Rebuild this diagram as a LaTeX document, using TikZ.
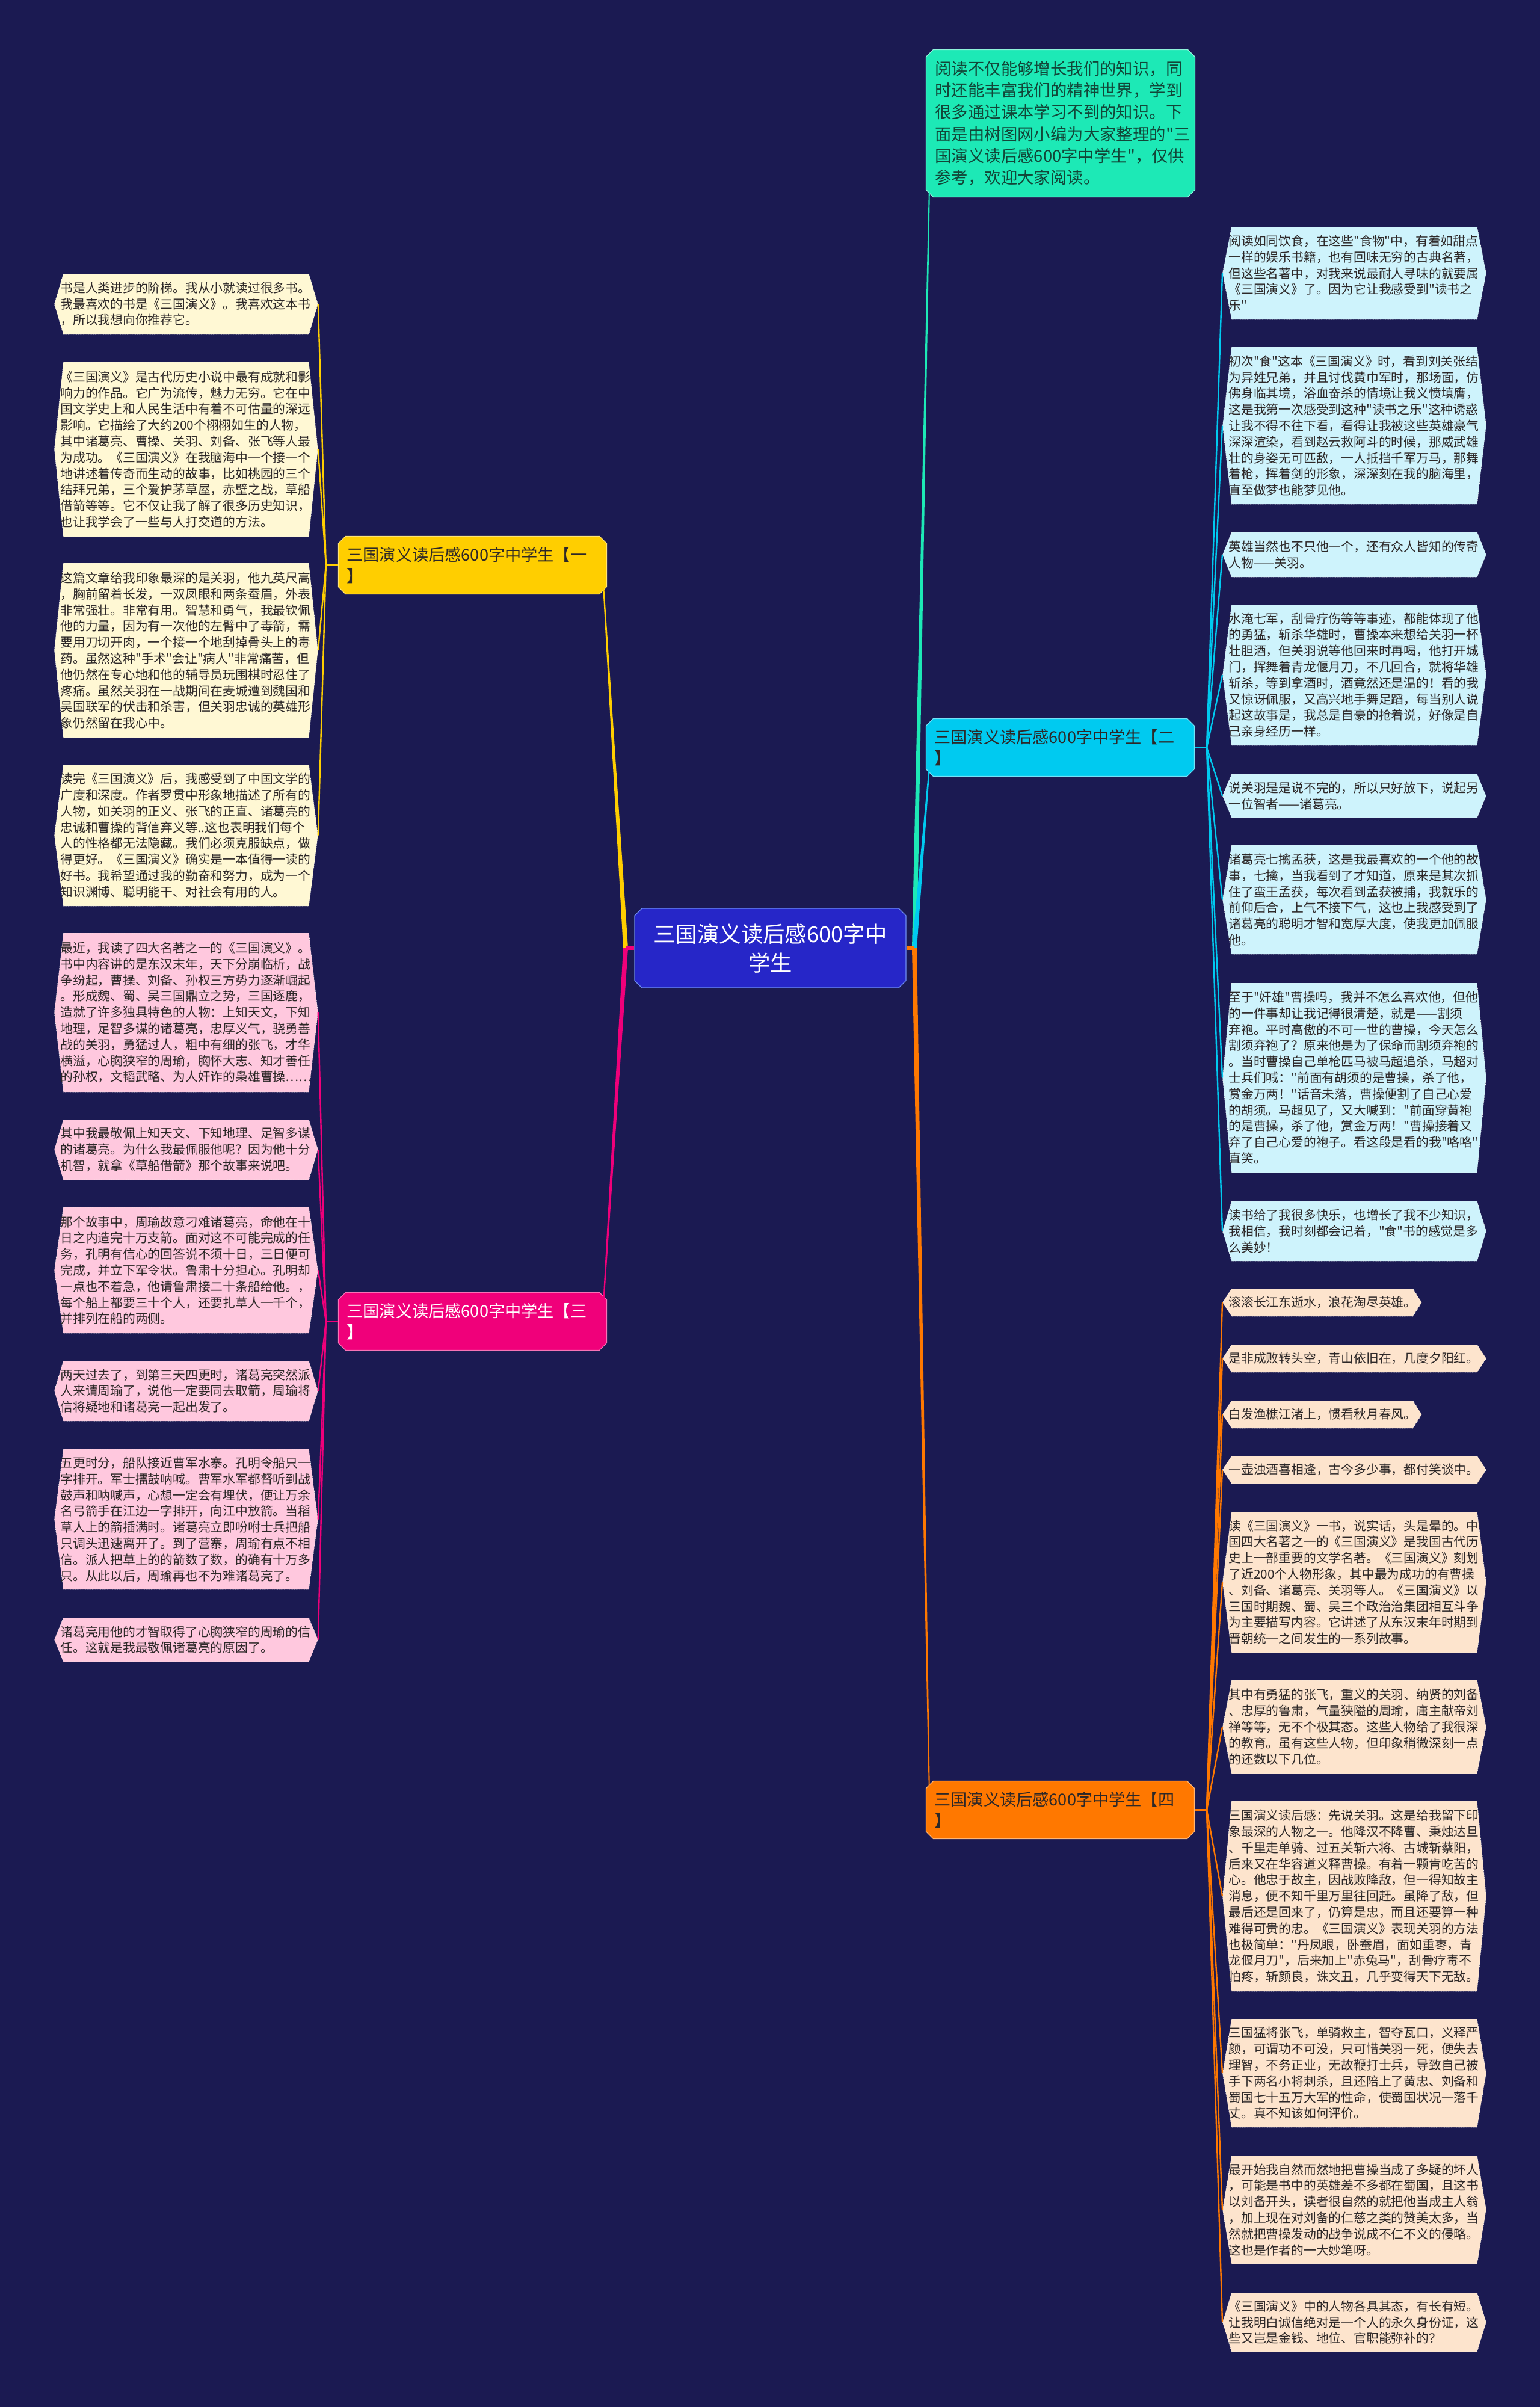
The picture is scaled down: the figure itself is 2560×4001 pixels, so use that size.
\documentclass[tikz,border=0pt]{standalone}
\usepackage{fontspec}
\newfontfamily\cjk{Noto Sans CJK SC}
\usetikzlibrary{calc,shapes.misc}

\definecolor{bgnavy}{RGB}{27,26,82}
\definecolor{introfill}{RGB}{29,233,182}
\definecolor{introtext}{RGB}{18,70,56}
\definecolor{rootfill}{RGB}{38,38,200}
\definecolor{rootedge}{RGB}{110,140,240}
\definecolor{yibr}{RGB}{255,206,0}
\definecolor{erbr}{RGB}{0,202,240}
\definecolor{sanbr}{RGB}{240,0,122}
\definecolor{sibr}{RGB}{255,120,0}
\definecolor{yileaf}{RGB}{255,248,212}
\definecolor{erleaf}{RGB}{206,243,252}
\definecolor{sanleaf}{RGB}{255,200,222}
\definecolor{sileaf}{RGB}{253,228,205}
\definecolor{leaftext}{RGB}{45,40,40}

\newcommand\leaffont{\cjk\fontsize{10.4pt}{13.4pt}\selectfont}
\newcommand\branchfont{\cjk\fontsize{13.6pt}{17.6pt}\selectfont}
\newcommand\rootfont{\cjk\fontsize{18.2pt}{24pt}\selectfont}

% tapered main connector: colour, hub, end
\newcommand\mainline[3]{\fill[#1] ($(#2)+(-4,0)$) -- ($(#3)+(-1,0)$) -- ($(#3)+(1,0)$) -- ($(#2)+(4,0)$) -- cycle;}

\tikzset{
  leaf/.style={anchor=west, fill=bgnavy, text=leaftext, font=\leaffont, align=left,
    text width=209pt, inner xsep=5pt, inner ysep=0pt,
    path picture={\filldraw[fill=#1, draw=white!85!gray, densely dotted, line width=0.4pt]
      ([xshift=7.5pt]path picture bounding box.north west) -- ([xshift=-7.5pt]path picture bounding box.north east)
      -- (path picture bounding box.east) -- ([xshift=-7.5pt]path picture bounding box.south east)
      -- ([xshift=7.5pt]path picture bounding box.south west) -- (path picture bounding box.west) -- cycle;}},
  branch/.style={chamfered rectangle, chamfered rectangle sep=3pt, anchor=north west,
    fill=#1, draw=#1!55!white, line width=0.6pt, font=\branchfont, text=leaftext,
    align=left, text width=209pt, inner xsep=4pt, minimum height=48pt},
  twig/.style={draw=#1, line width=1.2pt},
}

\begin{document}
\begin{tikzpicture}[x=0.5pt,y=-0.5pt]
  \path[use as bounding box, fill=bgnavy] (0,0) rectangle (2560,4001);

  % centre and intro
  \node[chamfered rectangle, chamfered rectangle sep=3pt, fill=rootfill, draw=rootedge, line width=0.6pt,
    text=white, font=\rootfont, align=center, minimum width=225.5pt, minimum height=66pt]
    (root) at (1280.5,1576) {三国演义读后感600字中\\学生};
  \node[chamfered rectangle, chamfered rectangle sep=3pt, anchor=north west, fill=introfill,
    draw=introfill!50!white, line width=0.6pt, text=introtext, font=\cjk\fontsize{13.7pt}{18.1pt}\selectfont,
    align=left, text width=208.5pt, inner xsep=4.5pt, minimum height=122.5pt] (intro) at (1545,88)
    {阅读不仅能够增长我们的知识，同\\
     时还能丰富我们的精神世界，学到\\
     很多通过课本学习不到的知识。下\\
     面是由树图网小编为大家整理的"三\\
     国演义读后感600字中学生"，仅供\\
     参考，欢迎大家阅读。};

  % branches
  \node[branch=yibr] (b1) at (568,897) {三国演义读后感600字中学生【一\\】};
  \node[branch=erbr] (b2) at (1545,1200) {三国演义读后感600字中学生【二\\】};
  \node[branch=sanbr, text=white] (b3) at (568,2154) {三国演义读后感600字中学生【三\\】};
  \node[branch=sibr] (b4) at (1545,2966) {三国演义读后感600字中学生【四\\】};

  % leaves of branch one
  \node[leaf=yileaf, minimum height=50.5pt] (yi1) at (90,505.5)
    {书是人类进步的阶梯。我从小就读过很多书。\\
     我最喜欢的书是《三国演义》。我喜欢这本书\\
     ，所以我想向你推荐它。};
  \node[leaf=yileaf, minimum height=145pt] (yi2) at (90,747)
    {《三国演义》是古代历史小说中最有成就和影\\
     响力的作品。它广为流传，魅力无穷。它在中\\
     国文学史上和人民生活中有着不可估量的深远\\
     影响。它描绘了大约200个栩栩如生的人物，\\
     其中诸葛亮、曹操、关羽、刘备、张飞等人最\\
     为成功。《三国演义》在我脑海中一个接一个\\
     地讲述着传奇而生动的故事，比如桃园的三个\\
     结拜兄弟，三个爱护茅草屋，赤壁之战，草船\\
     借箭等等。它不仅让我了解了很多历史知识，\\
     也让我学会了一些与人打交道的方法。};
  \node[leaf=yileaf, minimum height=145pt] (yi3) at (90,1081)
    {这篇文章给我印象最深的是关羽，他九英尺高\\
     ，胸前留着长发，一双凤眼和两条蚕眉，外表\\
     非常强壮。非常有用。智慧和勇气，我最钦佩\\
     他的力量，因为有一次他的左臂中了毒箭，需\\
     要用刀切开肉，一个接一个地刮掉骨头上的毒\\
     药。虽然这种"手术"会让"病人"非常痛苦，但\\
     他仍然在专心地和他的辅导员玩围棋时忍住了\\
     疼痛。虽然关羽在一战期间在麦城遭到魏国和\\
     吴国联军的伏击和杀害，但关羽忠诚的英雄形\\
     象仍然留在我心中。};
  \node[leaf=yileaf, minimum height=117.5pt] (yi4) at (90,1388.5)
    {读完《三国演义》后，我感受到了中国文学的\\
     广度和深度。作者罗贯中形象地描述了所有的\\
     人物，如关羽的正义、张飞的正直、诸葛亮的\\
     忠诚和曹操的背信弃义等..这也表明我们每个\\
     人的性格都无法隐藏。我们必须克服缺点，做\\
     得更好。《三国演义》确实是一本值得一读的\\
     好书。我希望通过我的勤奋和努力，成为一个\\
     知识渊博、聪明能干、对社会有用的人。};

  % leaves of branch three
  \node[leaf=sanleaf, minimum height=132pt] (san1) at (90,1683)
    {最近，我读了四大名著之一的《三国演义》。\\
     书中内容讲的是东汉末年，天下分崩临析，战\\
     争纷起，曹操、刘备、孙权三方势力逐渐崛起\\
     。形成魏、蜀、吴三国鼎立之势，三国逐鹿，\\
     造就了许多独具特色的人物：上知天文，下知\\
     地理，足智多谋的诸葛亮，忠厚义气，骁勇善\\
     战的关羽，勇猛过人，粗中有细的张飞，才华\\
     横溢，心胸狭窄的周瑜，胸怀大志、知才善任\\
     的孙权，文韬武略、为人奸诈的枭雄曹操……};
  \node[leaf=sanleaf, minimum height=50pt] (san2) at (90,1911)
    {其中我最敬佩上知天文、下知地理、足智多谋\\
     的诸葛亮。为什么我最佩服他呢？因为他十分\\
     机智，就拿《草船借箭》那个故事来说吧。};
  \node[leaf=sanleaf, minimum height=104.5pt] (san3) at (90,2111.5)
    {那个故事中，周瑜故意刁难诸葛亮，命他在十\\
     日之内造完十万支箭。面对这不可能完成的任\\
     务，孔明有信心的回答说不须十日，三日便可\\
     完成，并立下军令状。鲁肃十分担心。孔明却\\
     一点也不着急，他请鲁肃接二十条船给他。，\\
     每个船上都要三十个人，还要扎草人一千个，\\
     并排列在船的两侧。};
  \node[leaf=sanleaf, minimum height=50pt] (san4) at (90,2312)
    {两天过去了，到第三天四更时，诸葛亮突然派\\
     人来请周瑜了，说他一定要同去取箭，周瑜将\\
     信将疑地和诸葛亮一起出发了。};
  \node[leaf=sanleaf, minimum height=116.5pt] (san5) at (90,2525.5)
    {五更时分，船队接近曹军水寨。孔明令船只一\\
     字排开。军士擂鼓呐喊。曹军水军都督听到战\\
     鼓声和呐喊声，心想一定会有埋伏，便让万余\\
     名弓箭手在江边一字排开，向江中放箭。当稻\\
     草人上的箭插满时。诸葛亮立即吩咐士兵把船\\
     只调头迅速离开了。到了营寨，周瑜有点不相\\
     信。派人把草上的的箭数了数，的确有十万多\\
     只。从此以后，周瑜再也不为难诸葛亮了。};
  \node[leaf=sanleaf, minimum height=36.5pt] (san6) at (90,2725.5)
    {诸葛亮用他的才智取得了心胸狭窄的周瑜的信\\
     任。这就是我最敬佩诸葛亮的原因了。};

  % leaves of branch two
  \node[leaf=erleaf, minimum height=77pt] (er1) at (2032,454)
    {阅读如同饮食，在这些"食物"中，有着如甜点\\
     一样的娱乐书籍，也有回味无穷的古典名著，\\
     但这些名著中，对我来说最耐人寻味的就要属\\
     《三国演义》了。因为它让我感受到"读书之\\
     乐"};
  \node[leaf=erleaf, minimum height=130.5pt] (er2) at (2032,707.5)
    {初次"食"这本《三国演义》时，看到刘关张结\\
     为异姓兄弟，并且讨伐黄巾军时，那场面，仿\\
     佛身临其境，浴血奋杀的情境让我义愤填膺，\\
     这是我第一次感受到这种"读书之乐"这种诱惑\\
     让我不得不往下看，看得让我被这些英雄豪气\\
     深深渲染，看到赵云救阿斗的时候，那威武雄\\
     壮的身姿无可匹敌，一人抵挡千军万马，那舞\\
     着枪，挥着剑的形象，深深刻在我的脑海里，\\
     直至做梦也能梦见他。};
  \node[leaf=erleaf, minimum height=37pt] (er3) at (2032,922)
    {英雄当然也不只他一个，还有众人皆知的传奇\\
     人物——关羽。};
  \node[leaf=erleaf, minimum height=117pt] (er4) at (2032,1122)
    {水淹七军，刮骨疗伤等等事迹，都能体现了他\\
     的勇猛，斩杀华雄时，曹操本来想给关羽一杯\\
     壮胆酒，但关羽说等他回来时再喝，他打开城\\
     门，挥舞着青龙偃月刀，不几回合，就将华雄\\
     斩杀，等到拿酒时，酒竟然还是温的！看的我\\
     又惊讶佩服，又高兴地手舞足蹈，每当别人说\\
     起这故事是，我总是自豪的抢着说，好像是自\\
     己亲身经历一样。};
  \node[leaf=erleaf, minimum height=36pt] (er5) at (2032,1323)
    {说关羽是是说不完的，所以只好放下，说起另\\
     一位智者——诸葛亮。};
  \node[leaf=erleaf, minimum height=90.5pt] (er6) at (2032,1495.5)
    {诸葛亮七擒孟获，这是我最喜欢的一个他的故\\
     事，七擒，当我看到了才知道，原来是其次抓\\
     住了蛮王孟获，每次看到孟获被捕，我就乐的\\
     前仰后合，上气不接下气，这也上我感受到了\\
     诸葛亮的聪明才智和宽厚大度，使我更加佩服\\
     他。};
  \node[leaf=erleaf, minimum height=157.5pt] (er7) at (2032,1791.5)
    {至于"奸雄"曹操吗，我并不怎么喜欢他，但他\\
     的一件事却让我记得很清楚，就是——割须\\
     弃袍。平时高傲的不可一世的曹操，今天怎么\\
     割须弃袍了？原来他是为了保命而割须弃袍的\\
     。当时曹操自己单枪匹马被马超追杀，马超对\\
     士兵们喊："前面有胡须的是曹操，杀了他，\\
     赏金万两！"话音未落，曹操便割了自己心爱\\
     的胡须。马超见了，又大喊到："前面穿黄袍\\
     的是曹操，杀了他，赏金万两！"曹操接着又\\
     弃了自己心爱的袍子。看这段是看的我"咯咯"\\
     直笑。};
  \node[leaf=erleaf, minimum height=49.5pt] (er8) at (2032,2046.5)
    {读书给了我很多快乐，也增长了我不少知识，\\
     我相信，我时刻都会记着，"食"书的感觉是多\\
     么美妙！};

  % leaves of branch four
  \node[leaf=sileaf, minimum height=23pt, text width=155.5pt] (si1) at (2032,2165)
    {滚滚长江东逝水，浪花淘尽英雄。};
  \node[leaf=sileaf, minimum height=23pt] (si2) at (2032,2258)
    {是非成败转头空，青山依旧在，几度夕阳红。};
  \node[leaf=sileaf, minimum height=23pt, text width=155.5pt] (si3) at (2032,2351)
    {白发渔樵江渚上，惯看秋月春风。};
  \node[leaf=sileaf, minimum height=23pt] (si4) at (2032,2443)
    {一壶浊酒喜相逢，古今多少事，都付笑谈中。};
  \node[leaf=sileaf, minimum height=117pt] (si5) at (2032,2630)
    {读《三国演义》一书，说实话，头是晕的。中\\
     国四大名著之一的《三国演义》是我国古代历\\
     史上一部重要的文学名著。《三国演义》刻划\\
     了近200个人物形象，其中最为成功的有曹操\\
     、刘备、诸葛亮、关羽等人。《三国演义》以\\
     三国时期魏、蜀、吴三个政治治集团相互斗争\\
     为主要描写内容。它讲述了从东汉末年时期到\\
     晋朝统一之间发生的一系列故事。};
  \node[leaf=sileaf, minimum height=77.5pt] (si6) at (2032,2870.5)
    {其中有勇猛的张飞，重义的关羽、纳贤的刘备\\
     、忠厚的鲁肃，气量狭隘的周瑜，庸主献帝刘\\
     禅等等，无不个极其态。这些人物给了我很深\\
     的教育。虽有这些人物，但印象稍微深刻一点\\
     的还数以下几位。};
  \node[leaf=sileaf, minimum height=158pt] (si7) at (2032,3152)
    {三国演义读后感：先说关羽。这是给我留下印\\
     象最深的人物之一。他降汉不降曹、秉烛达旦\\
     、千里走单骑、过五关斩六将、古城斩蔡阳，\\
     后来又在华容道义释曹操。有着一颗肯吃苦的\\
     心。他忠于故主，因战败降敌，但一得知故主\\
     消息，便不知千里万里往回赶。虽降了敌，但\\
     最后还是回来了，仍算是忠，而且还要算一种\\
     难得可贵的忠。《三国演义》表现关羽的方法\\
     也极简单："丹凤眼，卧蚕眉，面如重枣，青\\
     龙偃月刀"，后来加上"赤兔马"，刮骨疗毒不\\
     怕疼，斩颜良，诛文丑，几乎变得天下无敌。};
  \node[leaf=sileaf, minimum height=90pt] (si8) at (2032,3446)
    {三国猛将张飞，单骑救主，智夺瓦口，义释严\\
     颜，可谓功不可没，只可惜关羽一死，便失去\\
     理智，不务正业，无故鞭打士兵，导致自己被\\
     手下两名小将刺杀，且还陪上了黄忠、刘备和\\
     蜀国七十五万大军的性命，使蜀国状况一落千\\
     丈。真不知该如何评价。};
  \node[leaf=sileaf, minimum height=90pt] (si9) at (2032,3673)
    {最开始我自然而然地把曹操当成了多疑的坏人\\
     ，可能是书中的英雄差不多都在蜀国，且这书\\
     以刘备开头，读者很自然的就把他当成主人翁\\
     ，加上现在对刘备的仁慈之类的赞美太多，当\\
     然就把曹操发动的战争说成不仁不义的侵略。\\
     这也是作者的一大妙笔呀。};
  \node[leaf=sileaf, minimum height=49pt] (si10) at (2032,3860)
    {《三国演义》中的人物各具其态，有长有短。\\
     让我明白诚信绝对是一个人的永久身份证，这\\
     些又岂是金钱、地位、官职能弥补的？};

  % main connectors
  \coordinate (hubL) at (1040,1576);
  \coordinate (hubR) at (1520,1576);
  \coordinate (introEnd) at ($(intro.south west)+(0,-12)$);
  \coordinate (b1End) at ($(b1.south east)+(0,-12)$);
  \coordinate (b2End) at ($(b2.south west)+(0,-11)$);
  \coordinate (b3End) at ($(b3.north east)+(0,17)$);
  \coordinate (b4End) at ($(b4.north west)+(0,19)$);
  \mainline{introfill}{hubR}{introEnd}
  \mainline{erbr}{hubR}{b2End}
  \mainline{sibr}{hubR}{b4End}
  \mainline{yibr}{hubL}{b1End}
  \mainline{sanbr}{hubL}{b3End}
  \draw[sanbr, line width=3pt] (hubL) -- (root.west);
  \draw[sibr, line width=3pt] (root.east) -- (hubR);

  % branch hubs and leaf connectors
  \coordinate (yiHub) at ($(b1.west)+(-20,0)$);
  \coordinate (sanHub) at ($(b3.west)+(-20,0)$);
  \coordinate (erHub) at ($(b2.east)+(20,0)$);
  \coordinate (siHub) at ($(b4.east)+(20,0)$);
  \draw[twig=yibr] (b1.west) -- (yiHub);
  \draw[twig=sanbr] (b3.west) -- (sanHub);
  \draw[twig=erbr] (b2.east) -- (erHub);
  \draw[twig=sibr] (b4.east) -- (siHub);
  \foreach \n in {1,...,4} \draw[twig=yibr] (yiHub) -- (yi\n.east);
  \foreach \n in {1,...,6} \draw[twig=sanbr] (sanHub) -- (san\n.east);
  \foreach \n in {1,...,8} \draw[twig=erbr] (erHub) -- (er\n.west);
  \foreach \n in {1,...,10} \draw[twig=sibr] (siHub) -- (si\n.west);
\end{tikzpicture}
\end{document}
